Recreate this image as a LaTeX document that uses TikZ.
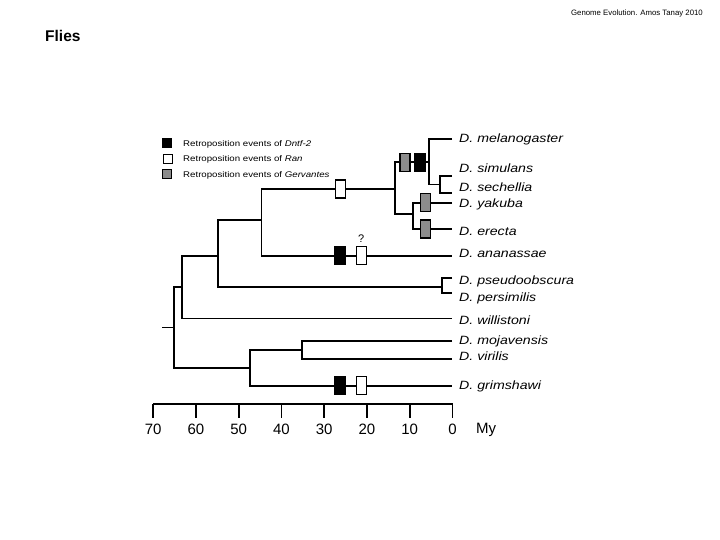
\documentclass[tikz,border=0pt]{standalone}
\usepackage{fontspec}
\setmainfont{Liberation Sans}
\newfontfamily\widefont{Liberation Sans}[FakeStretch=1.18]
\usetikzlibrary{positioning,calc}

\tikzset{
  branch/.style={line width=1.7pt},
  tipline/.style={line width=1.2pt},
  spname/.style={anchor=west, inner sep=0pt, font=\widefont\itshape\fontsize{12}{14}\selectfont},
  evbox/.style={draw, line width=1.3pt, minimum width=10pt, minimum height=18pt, inner sep=0pt},
  dntf/.style={evbox, fill=black},
  ranbox/.style={evbox, fill=white},
  gerv/.style={evbox, fill=black!45},
  legbox/.style={draw, line width=1.2pt, minimum width=9pt, minimum height=9pt, inner sep=0pt},
  legtext/.style={anchor=west, inner sep=0pt, font=\widefont\fontsize{8.2}{10}\selectfont},
  ticklabel/.style={inner sep=0pt, font=\fontsize{15}{17}\selectfont}
}

\begin{document}
\begin{tikzpicture}[x=1pt, y=-1pt]
\useasboundingbox (0,0) rectangle (720,540);

\node[anchor=east, inner sep=0pt, font=\fontsize{7.8}{9}\selectfont] (credit) at (703,13) {Genome Evolution. Amos Tanay 2010};
\node[anchor=west, inner sep=0pt, font=\bfseries\fontsize{15.5}{17}\selectfont] (title) at (45,36) {Flies};

% legend
\node[legbox, fill=black] (legd) at (166.7,142.7) {};
\node[legbox, fill=white] (legr) at (167.7,159.3) {};
\node[legbox, fill=black!45] (legg) at (166.7,174.3) {};
\node[legtext] (legdt) at (183,144) {Retroposition events of \textit{Dntf-2}};
\node[legtext] (legrt) at (183,159.5) {Retroposition events of \textit{Ran}};
\node[legtext] (leggt) at (183,175) {Retroposition events of \textit{Gervantes}};

% inner nodes
\coordinate (stem) at (162,327.3);
\coordinate (root) at (174,327.3);
\coordinate (sopho) at (181.7,286.7);
\coordinate (obsmel) at (217.7,255.7);
\coordinate (melana) at (261.5,220);
\coordinate (melsub) at (395,189);
\coordinate (melsim) at (429.3,162.3);
\coordinate (simsec) at (440,184.5);
\coordinate (yakere) at (412.7,214.3);
\coordinate (obscura) at (441.7,286.7);
\coordinate (drosop) at (250,367.7);
\coordinate (virmoj) at (302.3,350);

% tips
\coordinate (tmel) at (452,139.3);
\coordinate (tsim) at (452,175.7);
\coordinate (tsec) at (452,193.3);
\coordinate (tyak) at (452,202.7);
\coordinate (tere) at (452,229);
\coordinate (tana) at (452,255.7);
\coordinate (tpse) at (452,278.3);
\coordinate (tper) at (452,293.3);
\coordinate (twil) at (452,318.5);
\coordinate (tmoj) at (452,340.7);
\coordinate (tvir) at (452,359);
\coordinate (tgri) at (452,385.7);

\node[spname] (lmel) at (459,139.3) {D. melanogaster};
\node[spname] (lsim) at (459,168.5) {D. simulans};
\node[spname] (lsec) at (459,187.5) {D. sechellia};
\node[spname] (lyak) at (459,204) {D. yakuba};
\node[spname] (lere) at (459,231) {D. erecta};
\node[spname] (lana) at (459,253) {D. ananassae};
\node[spname] (lpse) at (459,281.5) {D. pseudoobscura};
\node[spname] (lper) at (459,298.3) {D. persimilis};
\node[spname] (lwil) at (459,320) {D. willistoni};
\node[spname] (lmoj) at (459,341.7) {D. mojavensis};
\node[spname] (lvir) at (459,356.7) {D. virilis};
\node[spname] (lgri) at (459,386) {D. grimshawi};

% branches
\draw[tipline] (stem) -- (root);
\draw[branch] (sopho) -| (root) |- (drosop);
\draw[branch] (obsmel) -| (sopho) |- (twil);
\draw[branch] (melana) -| (obsmel) |- (obscura);
\draw[branch] (melsub) -| (melana) |- (tana);
\draw[branch] (melsim) -| (melsub) |- (yakere);
\draw[branch] (tmel) -| (melsim) |- (simsec);
\draw[branch] (tsim) -| (simsec) |- (tsec);
\draw[branch] (tyak) -| (yakere) |- (tere);
\draw[branch] (tpse) -| (obscura) |- (tper);
\draw[branch] (virmoj) -| (drosop) |- (tgri);
\draw[branch] (tmoj) -| (virmoj) |- (tvir);

% events
\node[ranbox] (rmel) at (340.5,189) {};
\node[gerv] (gmel) at (405,162.3) {};
\node[dntf] (dmel) at (420,162.3) {};
\node[gerv] (gyak) at (425.7,202.7) {};
\node[gerv] (gere) at (425.7,229) {};
\node[dntf] (dana) at (340,255.7) {};
\node[ranbox] (rana) at (361.2,255.7) {};
\node[above=3pt of rana, inner sep=0pt, font=\fontsize{11}{12}\selectfont] (qana) {?};
\node[dntf] (dgri) at (340,385.7) {};
\node[ranbox] (rgri) at (361.2,385.7) {};

% time axis
\draw[line width=1.7pt] (153,404) -- (452.5,404);
\foreach \t in {0,10,...,70}
  \draw[line width=1.7pt] ({452.5-4.277*\t},404) -- ++(0,14)
    node[ticklabel, below=5pt] (tick\t) {\t};
\node[anchor=west, ticklabel] (myr) at (476,430) {My};
\end{tikzpicture}
\end{document}
